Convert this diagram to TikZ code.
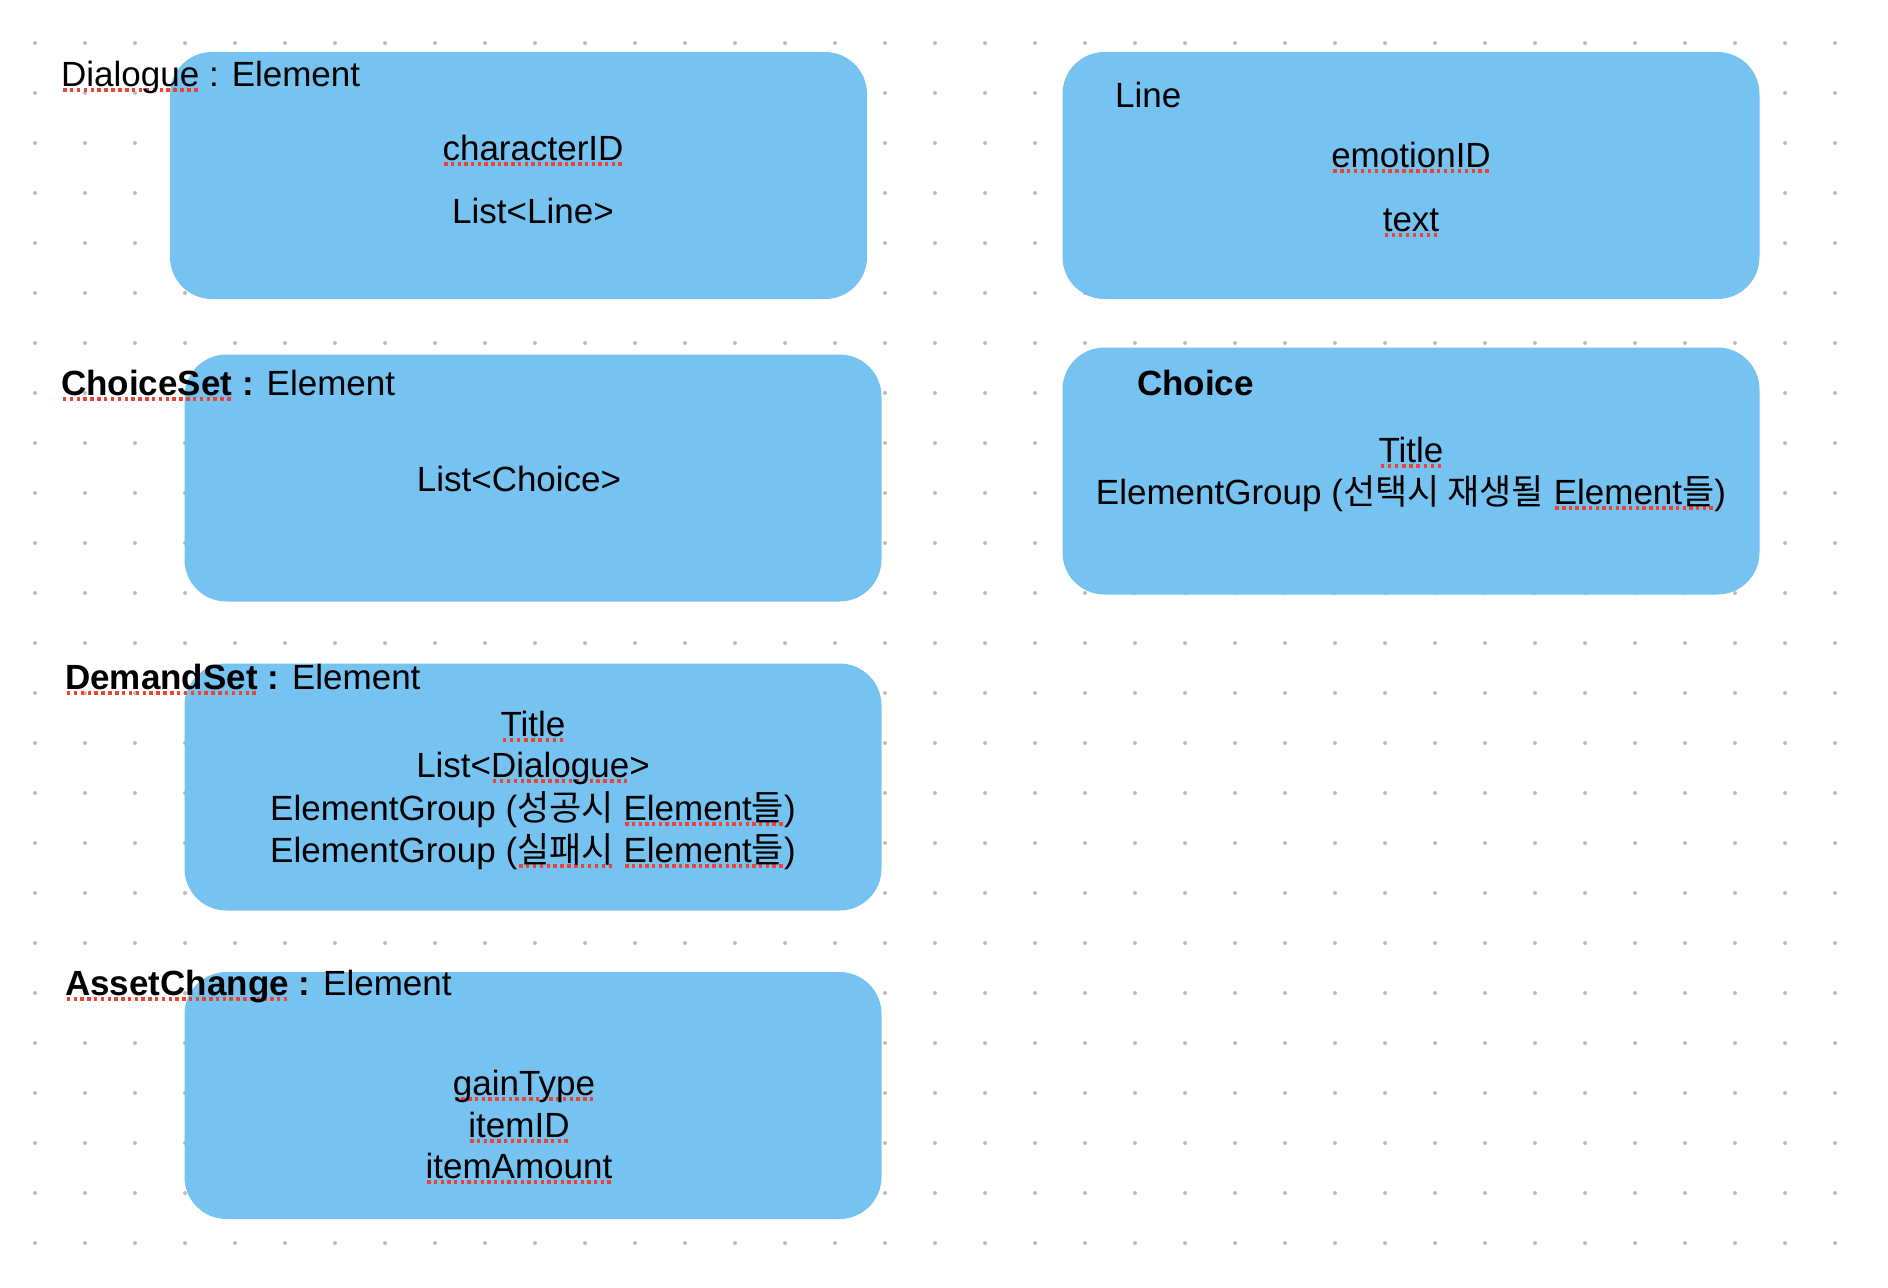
\documentclass[tikz,border=0pt]{standalone}
\usepackage{fontspec}
\setmainfont{Liberation Sans}
\newfontfamily\krfont{Noto Sans CJK KR}
\usepackage{xcolor}
\usepackage{tikz}
\definecolor{cardblue}{RGB}{118, 194, 240}
\definecolor{dotgray}{RGB}{188, 188, 188}
\definecolor{squiggle}{RGB}{236, 68, 52}
\newsavebox\spellbox
\newcommand\spell[1]{\sbox\spellbox{#1}\rlap{\textcolor{squiggle}{\raisebox{-0.16em}{\hbox to \wd\spellbox{\xleaders\hbox to 0.19em{\hss\rule{0.1em}{0.095em}\hss}\hfill}}}}\usebox\spellbox}

\begin{document}
\begin{tikzpicture}[x=1pt, y=-1pt,
    card/.style={fill=cardblue, rounded corners=42pt, minimum width=697pt, minimum height=247pt, inner sep=0pt},
    headtext/.style={anchor=base west, inner sep=0pt, font=\fontsize{35pt}{42pt}\selectfont},
    fieldtext/.style={anchor=base, inner sep=0pt, font=\fontsize{35pt}{42pt}\selectfont}]
    \useasboundingbox (0,0) rectangle (1888,1288);
    \foreach \i in {0,...,36}
        \foreach \j in {0,...,24}
            \fill[dotgray] ({35+50*\i},{43+50*\j}) circle (2);

    \node[card] (dialogue) at (518.5,175.5) {};
    \node[card] (line) at (1411,175.5) {};
    \node[card] (choiceset) at (533,478) {};
    \node[card] (choice) at (1411,471) {};
    \node[card] (demandset) at (533,787) {};
    \node[card] (assetchange) at (533,1095.5) {};

    \node[headtext] (dialoguehead) at (61,86) {\spell{Dialogue} : Element};
    \node[fieldtext] (characterid) at (533,160) {\spell{characterID}};
    \node[fieldtext] (linelist) at (533,223) {List<Line>};

    \node[headtext] (linehead) at (1115,107) {Line};
    \node[fieldtext] (emotionid) at (1411,167) {\spell{emotionID}};
    \node[fieldtext] (linetext) at (1411,231) {\spell{text}};

    \node[headtext] (choicesethead) at (61,395) {\textbf{\spell{ChoiceSet} :} Element};
    \node[fieldtext] (choicelist) at (519,491) {List<Choice>};

    \node[headtext] (choicehead) at (1137,395) {\textbf{Choice}};
    \node[fieldtext] (choicetitle) at (1411,462) {\spell{Title}};
    \node[fieldtext] (choicegroup) at (1411,504) {ElementGroup ({\krfont 선택시 재생될} \spell{Element{\krfont 들}})};

    \node[headtext] (demandsethead) at (65,689) {\textbf{\spell{DemandSet} :} Element};
    \node[fieldtext] (demandtitle) at (533,736) {\spell{Title}};
    \node[fieldtext] (dialoguelist) at (533,777) {List<\spell{Dialogue}>};
    \node[fieldtext] (successgroup) at (533,820) {ElementGroup ({\krfont 성공시} \spell{Element{\krfont 들}})};
    \node[fieldtext] (failgroup) at (533,862) {ElementGroup (\spell{\krfont 실패시} \spell{Element{\krfont 들}})};

    \node[headtext] (assetchangehead) at (65,995) {\textbf{\spell{AssetChange} :} Element};
    \node[fieldtext] (gaintype) at (524,1095) {\spell{gainType}};
    \node[fieldtext] (itemid) at (519,1137) {\spell{itemID}};
    \node[fieldtext] (itemamount) at (519,1178) {\spell{itemAmount}};
\end{tikzpicture}
\end{document}
